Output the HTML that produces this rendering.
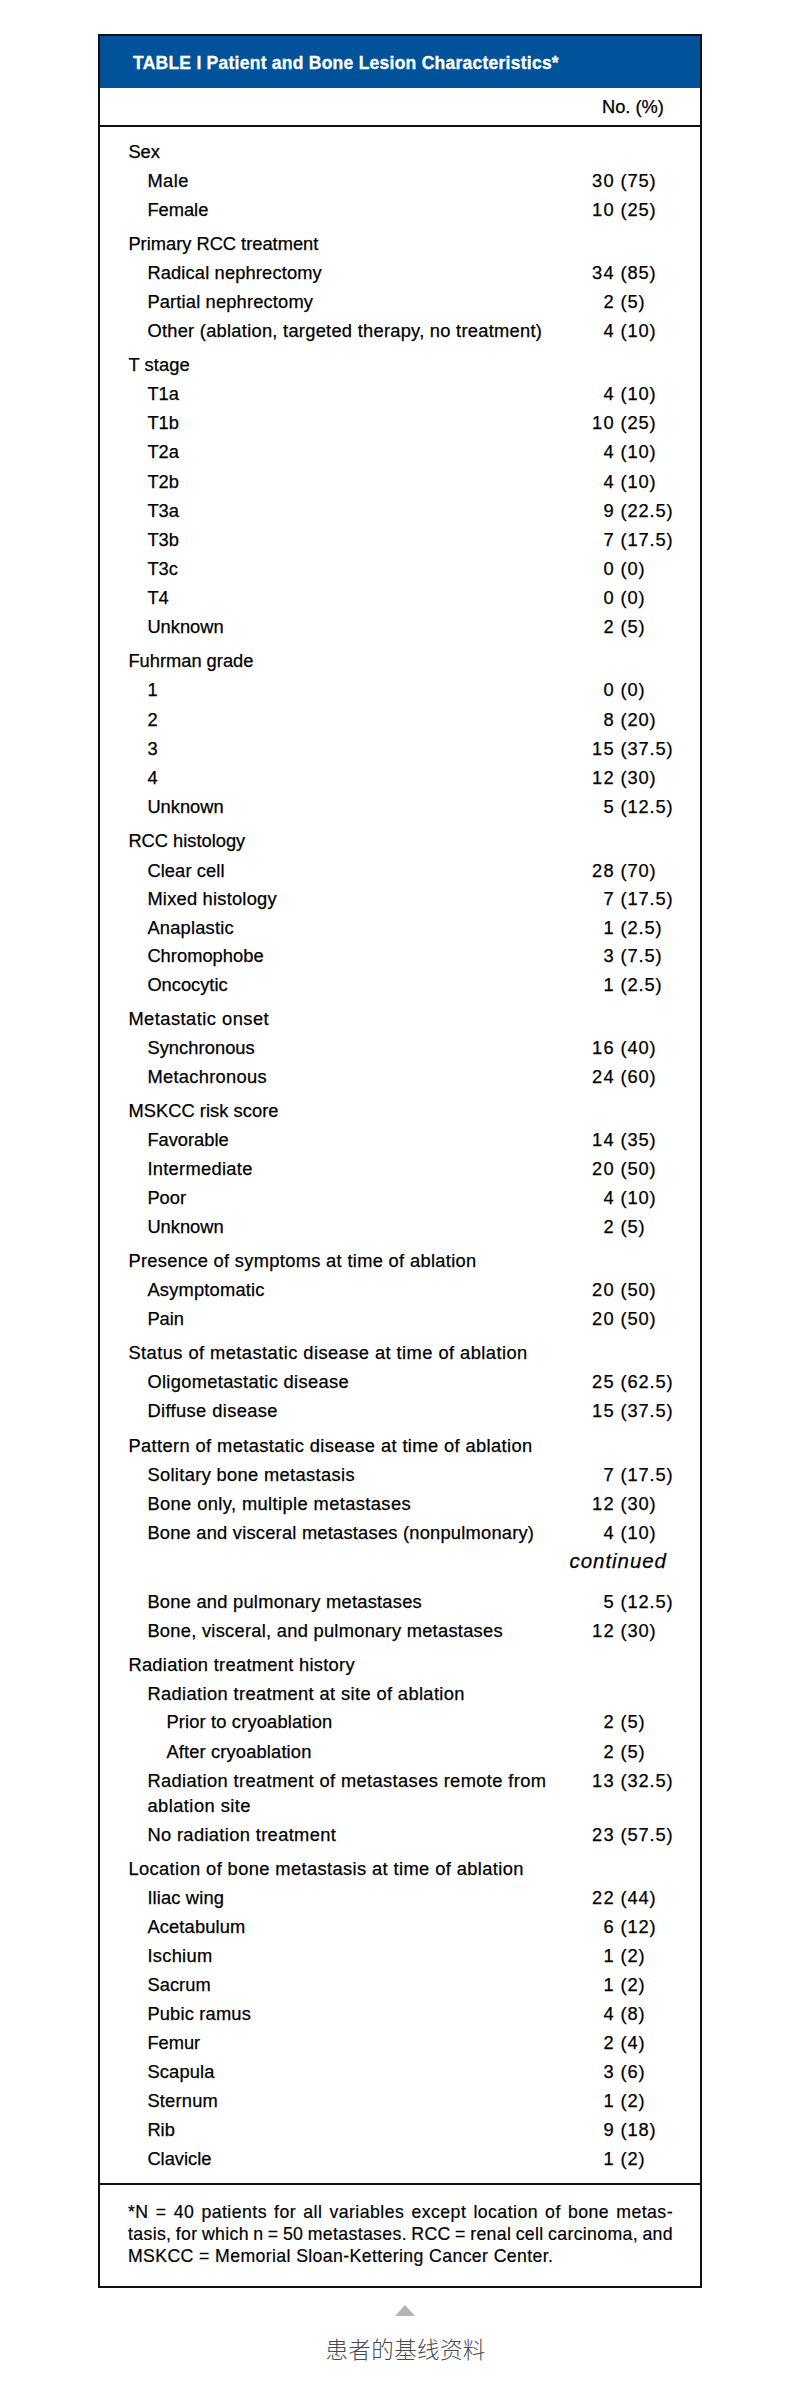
<!DOCTYPE html>
<html lang="zh">
<head>
<meta charset="utf-8">
<title>TABLE I Patient and Bone Lesion Characteristics</title>
<style>
html,body{margin:0;padding:0;background:#fff;}
body{width:800px;height:2396px;position:relative;overflow:hidden;font-family:"Liberation Sans","Noto Sans CJK SC",sans-serif;color:#000;}
#box{position:absolute;left:98px;top:34px;width:600px;height:2250px;border:2px solid #111;box-sizing:content-box;}
#hd{position:absolute;left:100px;top:36px;width:600px;height:52px;background:#00539b;}
#hd span{position:absolute;left:33px;top:14.5px;font-size:17.5px;line-height:24px;font-weight:bold;color:#fff;white-space:nowrap;letter-spacing:.25px;-webkit-text-stroke:.3px #fff;}
.hl{position:absolute;left:100px;width:600px;height:2px;background:#111;}
.r{position:absolute;left:0;width:800px;height:24px;line-height:24px;font-size:18.3px;white-space:nowrap;-webkit-text-stroke:.25px #000;}
.r span{position:absolute;top:0;}
.r .n{right:185.2px;text-align:right;letter-spacing:1.2px;}
.r .p{left:620.4px;letter-spacing:.9px;}
.fn{position:absolute;left:128px;width:545px;font-size:17.7px;-webkit-text-stroke:.2px #000;line-height:24px;white-space:nowrap;}
.fj{text-align:justify;text-align-last:justify;}
#tri{position:absolute;left:395px;top:2305px;width:0;height:0;border-left:10px solid transparent;border-right:10px solid transparent;border-bottom:11px solid #b4b4b4;}
#cap{position:absolute;left:5.6px;width:800px;top:2335.8px;text-align:center;font-size:22.5px;line-height:30px;letter-spacing:.4px;color:#4a4a4a;font-weight:300;}
</style>
</head>
<body>
<div id="box"></div>
<div id="hd"><span>TABLE I Patient and Bone Lesion Characteristics*</span></div>
<div class="r" style="top:94.5px"><span style="left:602px">No. (%)</span></div>
<div class="hl" style="top:125px"></div>

<div class="r" style="top:140.3px"><span class="l" style="left:128.4px">Sex</span></div>
<div class="r" style="top:169.3px"><span class="l" style="left:147.4px;letter-spacing:0.446px">Male</span><span class="n">30</span><span class="p">(75)</span></div>
<div class="r" style="top:198.3px"><span class="l" style="left:147.4px">Female</span><span class="n">10</span><span class="p">(25)</span></div>
<div class="r" style="top:232.3px"><span class="l" style="left:128.4px">Primary RCC treatment</span></div>
<div class="r" style="top:261.3px"><span class="l" style="left:147.4px;letter-spacing:0.146px">Radical nephrectomy</span><span class="n">34</span><span class="p">(85)</span></div>
<div class="r" style="top:290.3px"><span class="l" style="left:147.4px;letter-spacing:0.165px">Partial nephrectomy</span><span class="n">2</span><span class="p">(5)</span></div>
<div class="r" style="top:319.3px"><span class="l" style="left:147.4px;letter-spacing:0.270px">Other (ablation, targeted therapy, no treatment)</span><span class="n">4</span><span class="p">(10)</span></div>
<div class="r" style="top:353.3px"><span class="l" style="left:128.4px;letter-spacing:0.124px">T stage</span></div>
<div class="r" style="top:382.3px"><span class="l" style="left:147.4px">T1a</span><span class="n">4</span><span class="p">(10)</span></div>
<div class="r" style="top:411.3px"><span class="l" style="left:147.4px">T1b</span><span class="n">10</span><span class="p">(25)</span></div>
<div class="r" style="top:440.3px"><span class="l" style="left:147.4px">T2a</span><span class="n">4</span><span class="p">(10)</span></div>
<div class="r" style="top:470.3px"><span class="l" style="left:147.4px">T2b</span><span class="n">4</span><span class="p">(10)</span></div>
<div class="r" style="top:499.3px"><span class="l" style="left:147.4px">T3a</span><span class="n">9</span><span class="p">(22.5)</span></div>
<div class="r" style="top:528.3px"><span class="l" style="left:147.4px">T3b</span><span class="n">7</span><span class="p">(17.5)</span></div>
<div class="r" style="top:557.3px"><span class="l" style="left:147.4px">T3c</span><span class="n">0</span><span class="p">(0)</span></div>
<div class="r" style="top:586.3px"><span class="l" style="left:147.4px">T4</span><span class="n">0</span><span class="p">(0)</span></div>
<div class="r" style="top:615.3px"><span class="l" style="left:147.4px">Unknown</span><span class="n">2</span><span class="p">(5)</span></div>
<div class="r" style="top:649.3px"><span class="l" style="left:128.4px">Fuhrman grade</span></div>
<div class="r" style="top:678.3px"><span class="l" style="left:147.4px">1</span><span class="n">0</span><span class="p">(0)</span></div>
<div class="r" style="top:707.8px"><span class="l" style="left:147.4px">2</span><span class="n">8</span><span class="p">(20)</span></div>
<div class="r" style="top:736.8px"><span class="l" style="left:147.4px">3</span><span class="n">15</span><span class="p">(37.5)</span></div>
<div class="r" style="top:765.8px"><span class="l" style="left:147.4px">4</span><span class="n">12</span><span class="p">(30)</span></div>
<div class="r" style="top:794.8px"><span class="l" style="left:147.4px">Unknown</span><span class="n">5</span><span class="p">(12.5)</span></div>
<div class="r" style="top:829.3px"><span class="l" style="left:128.4px">RCC histology</span></div>
<div class="r" style="top:858.8px"><span class="l" style="left:147.4px;letter-spacing:0.101px">Clear cell</span><span class="n">28</span><span class="p">(70)</span></div>
<div class="r" style="top:887.3px"><span class="l" style="left:147.4px;letter-spacing:0.227px">Mixed histology</span><span class="n">7</span><span class="p">(17.5)</span></div>
<div class="r" style="top:916.3px"><span class="l" style="left:147.4px;letter-spacing:0.215px">Anaplastic</span><span class="n">1</span><span class="p">(2.5)</span></div>
<div class="r" style="top:944.3px"><span class="l" style="left:147.4px;letter-spacing:0.032px">Chromophobe</span><span class="n">3</span><span class="p">(7.5)</span></div>
<div class="r" style="top:973.3px"><span class="l" style="left:147.4px">Oncocytic</span><span class="n">1</span><span class="p">(2.5)</span></div>
<div class="r" style="top:1007.3px"><span class="l" style="left:128.4px;letter-spacing:0.474px">Metastatic onset</span></div>
<div class="r" style="top:1036.3px"><span class="l" style="left:147.4px;letter-spacing:0.063px">Synchronous</span><span class="n">16</span><span class="p">(40)</span></div>
<div class="r" style="top:1065.3px"><span class="l" style="left:147.4px;letter-spacing:0.304px">Metachronous</span><span class="n">24</span><span class="p">(60)</span></div>
<div class="r" style="top:1099.3px"><span class="l" style="left:128.4px;letter-spacing:0.050px">MSKCC risk score</span></div>
<div class="r" style="top:1128.3px"><span class="l" style="left:147.4px">Favorable</span><span class="n">14</span><span class="p">(35)</span></div>
<div class="r" style="top:1157.3px"><span class="l" style="left:147.4px;letter-spacing:0.299px">Intermediate</span><span class="n">20</span><span class="p">(50)</span></div>
<div class="r" style="top:1186.3px"><span class="l" style="left:147.4px">Poor</span><span class="n">4</span><span class="p">(10)</span></div>
<div class="r" style="top:1215.3px"><span class="l" style="left:147.4px">Unknown</span><span class="n">2</span><span class="p">(5)</span></div>
<div class="r" style="top:1249.3px"><span class="l" style="left:128.4px;letter-spacing:0.320px">Presence of symptoms at time of ablation</span></div>
<div class="r" style="top:1278.3px"><span class="l" style="left:147.4px;letter-spacing:0.209px">Asymptomatic</span><span class="n">20</span><span class="p">(50)</span></div>
<div class="r" style="top:1307.3px"><span class="l" style="left:147.4px">Pain</span><span class="n">20</span><span class="p">(50)</span></div>
<div class="r" style="top:1341.3px"><span class="l" style="left:128.4px;letter-spacing:0.442px">Status of metastatic disease at time of ablation</span></div>
<div class="r" style="top:1370.3px"><span class="l" style="left:147.4px;letter-spacing:0.323px">Oligometastatic disease</span><span class="n">25</span><span class="p">(62.5)</span></div>
<div class="r" style="top:1399.3px"><span class="l" style="left:147.4px;letter-spacing:0.389px">Diffuse disease</span><span class="n">15</span><span class="p">(37.5)</span></div>
<div class="r" style="top:1433.8px"><span class="l" style="left:128.4px;letter-spacing:0.389px">Pattern of metastatic disease at time of ablation</span></div>
<div class="r" style="top:1462.8px"><span class="l" style="left:147.4px;letter-spacing:0.347px">Solitary bone metastasis</span><span class="n">7</span><span class="p">(17.5)</span></div>
<div class="r" style="top:1491.8px"><span class="l" style="left:147.4px;letter-spacing:0.398px">Bone only, multiple metastases</span><span class="n">12</span><span class="p">(30)</span></div>
<div class="r" style="top:1520.8px"><span class="l" style="left:147.4px;letter-spacing:0.228px">Bone and visceral metastases (nonpulmonary)</span><span class="n">4</span><span class="p">(10)</span></div>
<div class="r" style="top:1589.8px"><span class="l" style="left:147.4px;letter-spacing:0.253px">Bone and pulmonary metastases</span><span class="n">5</span><span class="p">(12.5)</span></div>
<div class="r" style="top:1619.3px"><span class="l" style="left:147.4px;letter-spacing:0.276px">Bone, visceral, and pulmonary metastases</span><span class="n">12</span><span class="p">(30)</span></div>
<div class="r" style="top:1652.8px"><span class="l" style="left:128.4px;letter-spacing:0.298px">Radiation treatment history</span></div>
<div class="r" style="top:1681.8px"><span class="l" style="left:147.4px;letter-spacing:0.376px">Radiation treatment at site of ablation</span></div>
<div class="r" style="top:1710.3px"><span class="l" style="left:166.4px;letter-spacing:0.163px">Prior to cryoablation</span><span class="n">2</span><span class="p">(5)</span></div>
<div class="r" style="top:1740.3px"><span class="l" style="left:166.4px;letter-spacing:0.158px">After cryoablation</span><span class="n">2</span><span class="p">(5)</span></div>
<div class="r" style="top:1768.8px"><span class="l" style="left:147.4px;letter-spacing:0.375px">Radiation treatment of metastases remote from</span><span class="n">13</span><span class="p">(32.5)</span></div>
<div class="r" style="top:1793.8px"><span class="l" style="left:147.4px;letter-spacing:0.464px">ablation site</span></div>
<div class="r" style="top:1822.8px"><span class="l" style="left:147.4px;letter-spacing:0.360px">No radiation treatment</span><span class="n">23</span><span class="p">(57.5)</span></div>
<div class="r" style="top:1856.8px"><span class="l" style="left:128.4px;letter-spacing:0.391px">Location of bone metastasis at time of ablation</span></div>
<div class="r" style="top:1885.8px"><span class="l" style="left:147.4px;letter-spacing:0.142px">Iliac wing</span><span class="n">22</span><span class="p">(44)</span></div>
<div class="r" style="top:1914.8px"><span class="l" style="left:147.4px;letter-spacing:0.156px">Acetabulum</span><span class="n">6</span><span class="p">(12)</span></div>
<div class="r" style="top:1943.8px"><span class="l" style="left:147.4px;letter-spacing:0.301px">Ischium</span><span class="n">1</span><span class="p">(2)</span></div>
<div class="r" style="top:1972.8px"><span class="l" style="left:147.4px;letter-spacing:0.068px">Sacrum</span><span class="n">1</span><span class="p">(2)</span></div>
<div class="r" style="top:2001.8px"><span class="l" style="left:147.4px;letter-spacing:0.182px">Pubic ramus</span><span class="n">4</span><span class="p">(8)</span></div>
<div class="r" style="top:2031.3px"><span class="l" style="left:147.4px">Femur</span><span class="n">2</span><span class="p">(4)</span></div>
<div class="r" style="top:2060.3px"><span class="l" style="left:147.4px;letter-spacing:0.162px">Scapula</span><span class="n">3</span><span class="p">(6)</span></div>
<div class="r" style="top:2089.3px"><span class="l" style="left:147.4px;letter-spacing:0.217px">Sternum</span><span class="n">1</span><span class="p">(2)</span></div>
<div class="r" style="top:2118.3px"><span class="l" style="left:147.4px">Rib</span><span class="n">9</span><span class="p">(18)</span></div>
<div class="r" style="top:2147.3px"><span class="l" style="left:147.4px">Clavicle</span><span class="n">1</span><span class="p">(2)</span></div>
<div class="r" style="top:1549.3px;font-style:italic;font-size:20.5px;letter-spacing:.95px"><span style="left:569.5px">continued</span></div>
<div class="hl" style="top:2182.5px"></div>
<div class="fn fj" style="top:2200px;letter-spacing:.45px">*N = 40 patients for all variables except location of bone metas-</div>
<div class="fn fj" style="top:2221.5px;letter-spacing:.35px;word-spacing:-1.2px">tasis, for which n = 50 metastases. RCC = renal cell carcinoma, and</div>
<div class="fn" style="top:2243.5px;letter-spacing:.38px">MSKCC = Memorial Sloan-Kettering Cancer Center.</div>
<div id="tri"></div>
<div id="cap">患者的基线资料</div>
</body>
</html>
